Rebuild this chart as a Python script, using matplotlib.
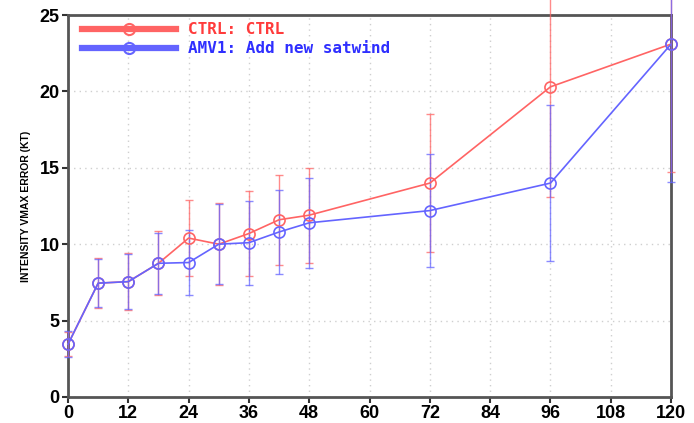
import matplotlib.pyplot as plt
from matplotlib.lines import Line2D
import numpy as np

# forecast lead time (h)
hours = [0, 6, 12, 18, 24, 30, 36, 42, 48, 72, 96, 120]

# mean intensity error and spread (kt)
ctrl_mean = [3.45, 7.45, 7.55, 8.75, 10.4, 10.0, 10.7, 11.6, 11.9, 14.0, 20.3, 23.1]
ctrl_err = [0.8, 1.65, 1.85, 2.1, 2.5, 2.7, 2.75, 2.95, 3.1, 4.5, 7.2, 8.4]
amv1_mean = [3.45, 7.45, 7.55, 8.75, 8.8, 10.0, 10.1, 10.8, 11.4, 12.2, 14.0, 23.1]
amv1_err = [0.85, 1.55, 1.8, 2.0, 2.15, 2.6, 2.75, 2.75, 2.95, 3.7, 5.1, 9.0]

labels = ['CTRL: CTRL', 'AMV1: Add new satwind']
line_colors = ['#ff6464', '#6464ff']
text_colors = ['#ff3b3b', '#2f2fff']

fig = plt.figure(figsize=(6.94, 4.23), dpi=100)
ax = fig.add_axes([0.098, 0.0615, 0.869, 0.903])

series = [(ctrl_mean, ctrl_err), (amv1_mean, amv1_err)]
for (mean, err), c in zip(series, line_colors):
    eb = ax.errorbar(hours, mean, yerr=err, fmt='none', ecolor=c, elinewidth=1.0,
                     capsize=3, capthick=1.0, alpha=0.75, zorder=3)
    for part in eb.lines[1] + eb.lines[2]:
        part.set_clip_on(False)
    ax.plot(hours, mean, color=c, lw=1.2, marker='o', ms=8, mfc='none',
            mec=c, mew=1.2, zorder=4, clip_on=False)

ax.set_xlim(0, 120)
ax.set_ylim(0, 25)
ax.set_xticks(np.arange(0, 121, 12))
ax.set_yticks(np.arange(0, 26, 5))
ax.grid(True, color='#cfcfcf', linestyle=(0, (1, 3)), lw=1.0)
ax.set_axisbelow(True)

for s in ax.spines.values():
    s.set_color('#555555')
    s.set_linewidth(2.0)
ax.tick_params(direction='out', length=4, width=1.5, color='#333333', pad=2)
for lab in ax.get_xticklabels() + ax.get_yticklabels():
    lab.set_fontfamily('Liberation Sans')
    lab.set_fontweight('bold')
    lab.set_fontsize(13)

ax.set_ylabel('INTENSITY VMAX ERROR (KT)', fontsize=7.5, fontweight='bold',
              fontfamily='Liberation Sans', labelpad=6)

handles = [Line2D([], [], color=c, lw=4.5, marker='o', ms=8, mfc='none', mec=c, mew=1.5)
           for c in line_colors]
leg = ax.legend(handles, labels, loc='upper left', bbox_to_anchor=(0.0, 1.016),
                frameon=False,
                prop={'family': 'DejaVu Sans Mono', 'weight': 'bold', 'size': 11.5},
                handlelength=5.9, handletextpad=0.75, labelspacing=0.25,
                borderaxespad=0.6, borderpad=0.25)
for t, c in zip(leg.get_texts(), text_colors):
    t.set_color(c)

plt.savefig('out.png', dpi=100)
